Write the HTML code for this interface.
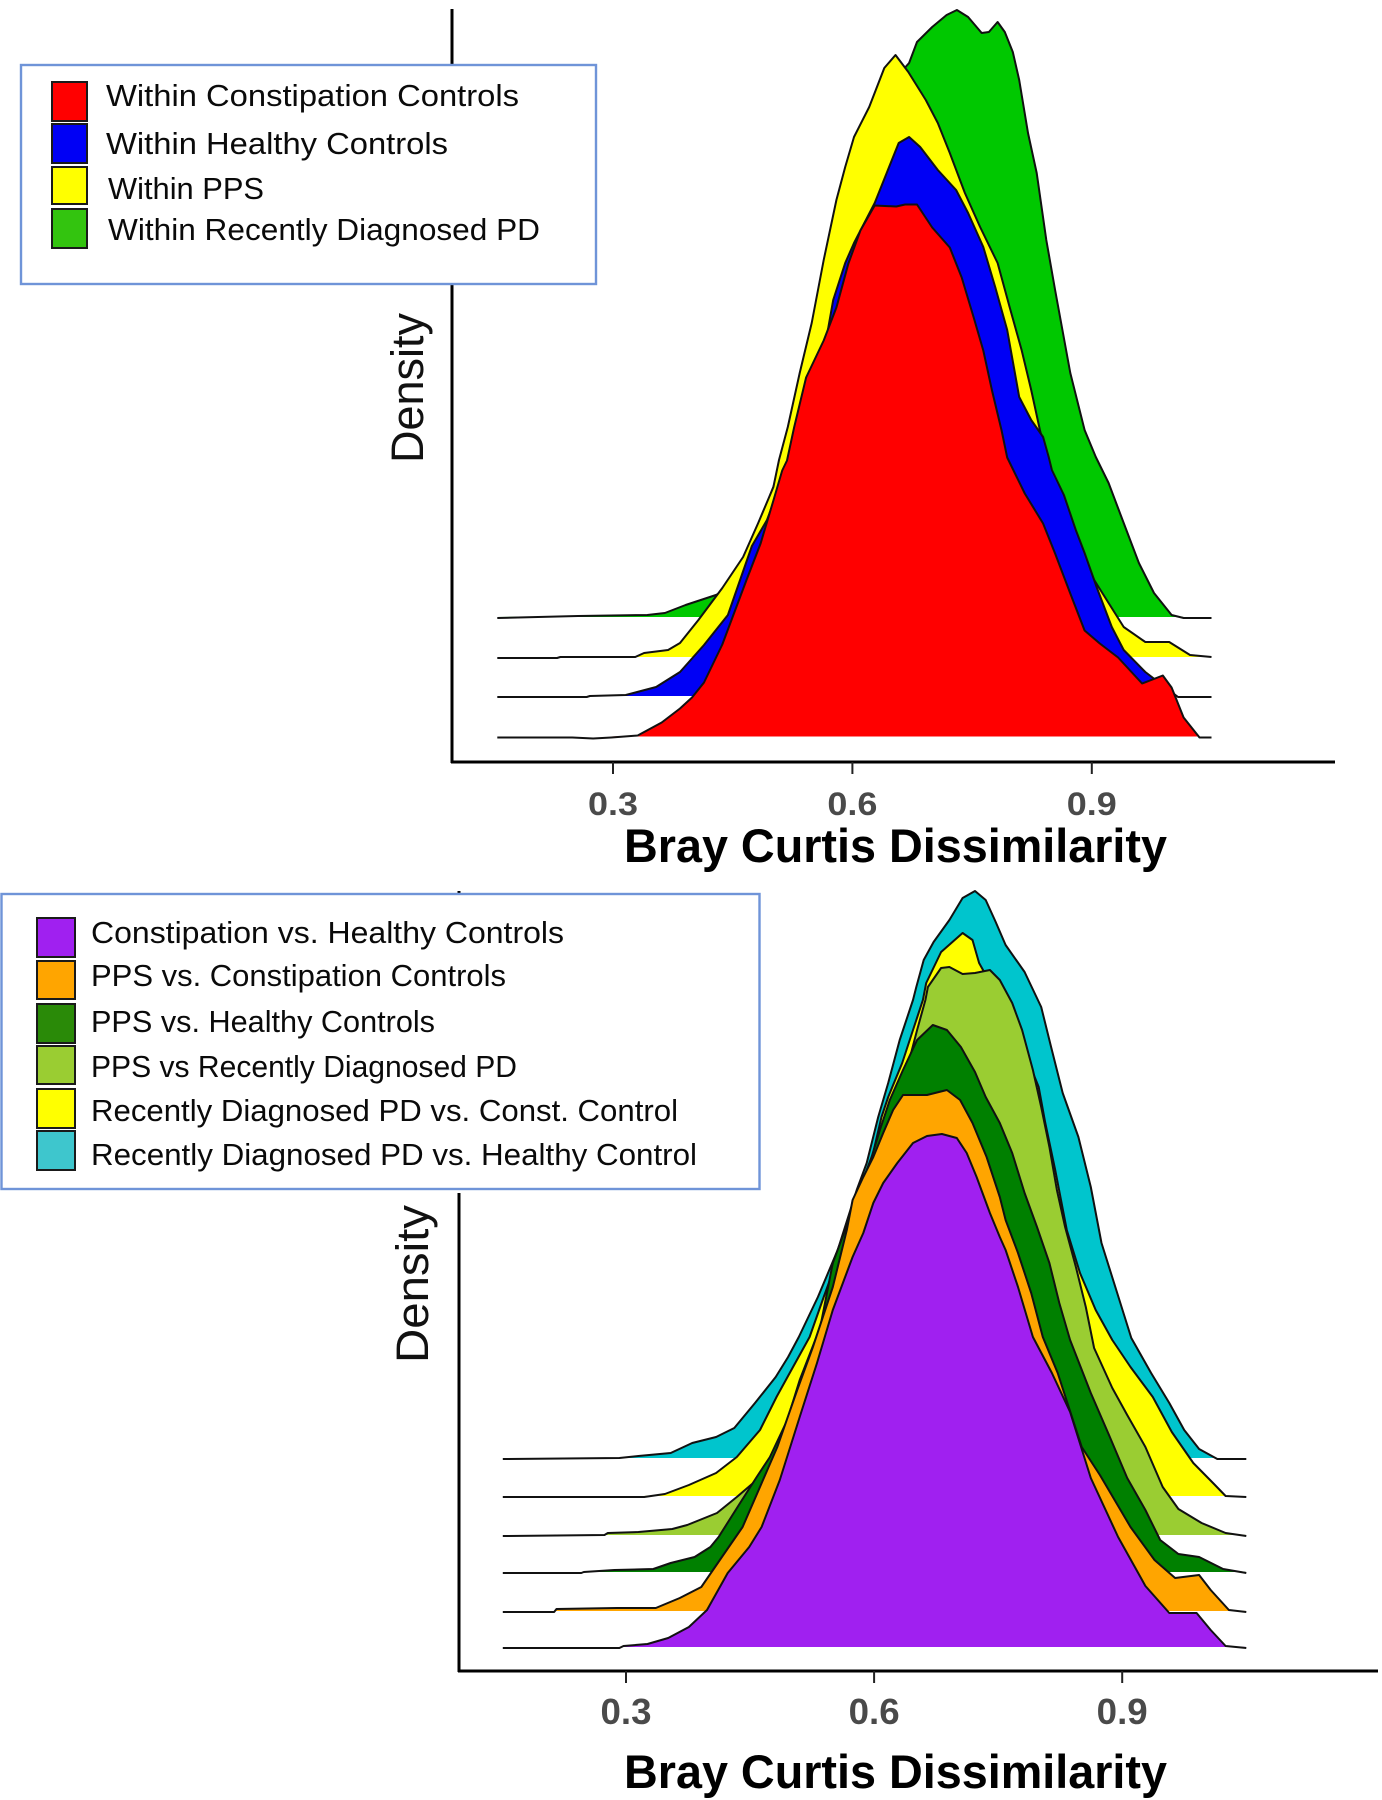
<!DOCTYPE html>
<html lang="en">
<head>
<meta charset="utf-8">
<title>Bray Curtis Dissimilarity density ridgelines</title>
<style>
html,body{margin:0;padding:0;background:#fff;}
body{width:1382px;height:1800px;overflow:hidden;}
svg{display:block;}
text{font-family:"Liberation Sans",sans-serif;}
.lg{font-size:31px;fill:#0a0a0a;}
.tick{font-size:32px;font-weight:bold;fill:#4a4a4a;}
.xt{font-size:47px;font-weight:bold;fill:#000;}
.yt{font-size:45px;fill:#111;}
.sw{stroke:#1a1a1a;stroke-width:2;}
.box{fill:#fff;stroke:#6f94d8;stroke-width:2.4;}
</style>
</head>
<body>
<svg id="chart" xmlns="http://www.w3.org/2000/svg" width="1382" height="1800" viewBox="0 0 1382 1800">
  <rect x="0" y="0" width="1382" height="1800" fill="#fff"/>
  <g id="top-chart">
    <line x1="452" y1="9" x2="452" y2="763" stroke="#000" stroke-width="3"/>
    <line x1="451" y1="762" x2="1335" y2="762" stroke="#000" stroke-width="3"/>
    <text class="yt" transform="translate(423,463) rotate(-90)" textLength="150" lengthAdjust="spacingAndGlyphs">Density</text>
    <text class="xt" x="624" y="862" textLength="543" lengthAdjust="spacingAndGlyphs">Bray Curtis Dissimilarity</text>
  </g>
  <g id="bottom-chart">
    <line x1="459" y1="891" x2="459" y2="1672" stroke="#000" stroke-width="3"/>
    <line x1="458" y1="1671" x2="1378" y2="1671" stroke="#000" stroke-width="3"/>
    <text class="yt" transform="translate(428,1363) rotate(-90)" textLength="158" lengthAdjust="spacingAndGlyphs">Density</text>
    <text class="xt" x="624" y="1788" textLength="543" lengthAdjust="spacingAndGlyphs">Bray Curtis Dissimilarity</text>
  </g>
  <g>
    <rect class="box" x="21" y="65" width="575" height="219"/>
    <g>
      <rect class="sw" x="52" y="82" width="35" height="39" fill="#ff0000"/>
      <text class="lg" x="106" y="106" textLength="413" lengthAdjust="spacingAndGlyphs">Within Constipation Controls</text>
    </g>
    <g>
      <rect class="sw" x="52" y="124" width="35" height="39" fill="#0000f5"/>
      <text class="lg" x="106" y="154" textLength="342" lengthAdjust="spacingAndGlyphs">Within Healthy Controls</text>
    </g>
    <g>
      <rect class="sw" x="52" y="167" width="35" height="37" fill="#ffff00"/>
      <text class="lg" x="108" y="199" textLength="156" lengthAdjust="spacingAndGlyphs">Within PPS</text>
    </g>
    <g>
      <rect class="sw" x="52" y="209" width="35" height="39" fill="#33c40f"/>
      <text class="lg" x="108" y="240" textLength="432" lengthAdjust="spacingAndGlyphs">Within Recently Diagnosed PD</text>
    </g>
  </g>
  <g>
    <rect x="0" y="1189" width="762" height="4" fill="#fff"/>
    <rect class="box" x="1.5" y="894" width="758" height="295"/>
    <g>
      <rect class="sw" x="37" y="918" width="38" height="39" fill="#a020f0"/>
      <text class="lg" x="91" y="943" textLength="473" lengthAdjust="spacingAndGlyphs">Constipation vs. Healthy Controls</text>
    </g>
    <g>
      <rect class="sw" x="37" y="961" width="38" height="38" fill="#ffa500"/>
      <text class="lg" x="91" y="986" textLength="415" lengthAdjust="spacingAndGlyphs">PPS vs. Constipation Controls</text>
    </g>
    <g>
      <rect class="sw" x="37" y="1004" width="38" height="39" fill="#2a8a08"/>
      <text class="lg" x="91" y="1032" textLength="344" lengthAdjust="spacingAndGlyphs">PPS vs. Healthy Controls</text>
    </g>
    <g>
      <rect class="sw" x="37" y="1046" width="38" height="38" fill="#9acd32"/>
      <text class="lg" x="91" y="1077" textLength="426" lengthAdjust="spacingAndGlyphs">PPS vs Recently Diagnosed PD</text>
    </g>
    <g>
      <rect class="sw" x="37" y="1089" width="38" height="39" fill="#ffff00"/>
      <text class="lg" x="91" y="1121" textLength="587" lengthAdjust="spacingAndGlyphs">Recently Diagnosed PD vs. Const. Control</text>
    </g>
    <g>
      <rect class="sw" x="37" y="1131" width="38" height="39" fill="#3ec6cd"/>
      <text class="lg" x="91" y="1165" textLength="606" lengthAdjust="spacingAndGlyphs">Recently Diagnosed PD vs. Healthy Control</text>
    </g>
  </g>
</svg>
<script>
const xTickValues = [0.3, 0.6, 0.9];
const xTickLabels = ["0.3", "0.6", "0.9"];

const withinRecentX = [.155,.256,.343,.365,.391,.429,.453,.478,.509,.542,.572,.607,.641,.671,.681,.700,.718,.731,.745,.762,.771,.782,.791,.801,.809,.820,.831,.843,.854,.873,.891,.905,.921,.940,.959,.978,1.000,1.015,1.050];
const withinRecentD = [0,.02,.03,.05,.13,.23,.33,.83,1.48,2.48,3.68,4.68,5.28,5.55,5.76,5.91,6.03,6.08,6.01,5.85,5.86,5.96,5.86,5.66,5.38,4.85,4.45,3.78,3.28,2.45,1.88,1.61,1.35,.95,.55,.25,.03,0,0];

const withinPpsX = [.155,.230,.234,.328,.339,.369,.384,.407,.437,.463,.482,.501,.508,.519,.534,.549,.564,.580,.591,.602,.621,.640,.654,.670,.692,.707,.722,.741,.760,.782,.797,.812,.824,.835,.848,.875,.903,.921,.940,.967,.997,1.023,1.050];
const withinPpsD = [0,0,.01,.01,.05,.08,.15,.38,.70,1.01,1.35,1.71,1.98,2.31,2.85,3.35,3.98,4.58,4.91,5.21,5.51,5.90,6.03,5.86,5.58,5.35,5.05,4.65,4.31,3.95,3.51,3.08,2.68,2.28,1.88,1.28,.78,.55,.31,.16,.16,.03,.01];

const withinHealthyX = [.155,.267,.271,.316,.354,.384,.414,.444,.474,.493,.521,.542,.567,.576,.591,.602,.628,.643,.658,.671,.685,.707,.730,.745,.764,.779,.794,.809,.824,.839,.846,.850,.865,.880,.891,.906,.925,.940,.967,1.008,1.050];
const withinHealthyD = [0,0,.01,.02,.10,.25,.52,.82,1.51,1.77,2.37,2.97,3.57,3.97,4.34,4.54,4.94,5.24,5.54,5.60,5.50,5.27,5.07,4.84,4.50,4.10,3.67,3.00,2.77,2.60,2.40,2.27,2.02,1.67,1.44,1.10,.70,.47,.25,0,0];

const withinConstipationX = [.155,.249,.275,.298,.331,.361,.384,.399,.414,.437,.467,.485,.501,.512,.518,.527,.542,.564,.580,.595,.610,.628,.655,.666,.681,.700,.722,.737,.752,.764,.775,.787,.794,.816,.839,.854,.873,.891,.910,.933,.948,.963,.989,1.000,1.015,1.035,1.050];
const withinConstipationD = [0,0,-.01,0,.02,.15,.29,.40,.55,.93,1.57,1.94,2.37,2.67,2.77,3.10,3.60,3.97,4.30,4.74,5.07,5.32,5.31,5.33,5.33,5.10,4.90,4.60,4.20,3.87,3.47,3.07,2.80,2.44,2.14,1.84,1.44,1.07,.94,.80,.67,.54,.62,.50,.20,0,0];

const recentVsHealthyX = [.151,.292,.315,.354,.380,.409,.431,.456,.481,.496,.509,.532,.556,.579,.591,.605,.617,.631,.647,.651,.660,.672,.691,.707,.722,.735,.747,.759,.782,.802,.814,.828,.847,.862,.875,.894,.911,.935,.957,.975,.993,1.015,1.050];
const recentVsHealthyD = [0,.01,.03,.06,.16,.22,.31,.56,.82,1.02,1.22,1.62,2.09,2.69,2.96,3.42,3.76,4.19,4.59,4.72,4.99,5.17,5.39,5.61,5.68,5.59,5.37,5.14,4.87,4.52,4.12,3.66,3.22,2.72,2.16,1.66,1.21,.86,.56,.29,.10,0,0];

const recentVsConstX = [.151,.322,.347,.376,.409,.434,.462,.482,.498,.522,.539,.560,.583,.596,.609,.617,.634,.647,.659,.663,.681,.707,.719,.727,.752,.776,.799,.807,.819,.833,.849,.868,.888,.910,.937,.960,.986,1.011,1.025,1.050];
const recentVsConstD = [0,0,.03,.12,.24,.40,.67,1.00,1.24,1.60,2.00,2.47,3.07,3.34,3.80,4.00,4.34,4.67,4.97,5.14,5.45,5.64,5.57,5.34,4.97,4.57,4.10,3.74,3.27,2.67,2.24,1.87,1.57,1.30,1.00,.65,.34,.13,.01,0];

const ppsVsRecentX = [.151,.274,.278,.315,.356,.374,.410,.434,.458,.501,.542,.568,.600,.624,.641,.652,.662,.665,.681,.691,.707,.722,.740,.752,.767,.779,.792,.802,.812,.821,.831,.844,.856,.866,.888,.906,.928,.949,.968,.996,1.025,1.050];
const ppsVsRecentD = [0,.01,.03,.04,.07,.11,.23,.39,.56,1.16,2.09,2.93,3.66,4.36,4.71,5.06,5.36,5.49,5.68,5.69,5.62,5.63,5.66,5.56,5.33,5.06,4.66,4.29,3.89,3.46,3.09,2.69,2.29,1.88,1.48,1.21,.89,.49,.27,.13,.03,0];

const ppsVsHealthyX = [.151,.246,.249,.286,.333,.354,.383,.402,.412,.438,.458,.474,.495,.510,.535,.550,.559,.577,.591,.597,.607,.619,.635,.652,.671,.688,.705,.722,.735,.752,.767,.782,.797,.812,.824,.837,.862,.884,.906,.928,.946,.968,.993,1.022,1.050];
const ppsVsHealthyD = [0,0,.01,.03,.04,.10,.16,.26,.36,.70,.96,1.16,1.53,1.93,2.46,3.10,3.30,3.70,4.03,4.16,4.43,4.73,5.03,5.33,5.48,5.43,5.26,5.01,4.76,4.50,4.20,3.80,3.46,3.10,2.70,2.33,1.80,1.38,.95,.63,.33,.19,.16,.04,0];

const ppsVsConstX = [.151,.213,.216,.289,.336,.365,.391,.416,.441,.483,.507,.526,.550,.567,.574,.587,.599,.611,.623,.635,.655,.664,.688,.704,.719,.736,.752,.759,.774,.790,.804,.822,.851,.873,.910,.939,.964,.993,1.007,1.029,1.050];
const ppsVsConstD = [0,0,.03,.04,.04,.14,.25,.55,.85,1.65,2.22,2.65,3.25,3.82,4.12,4.35,4.55,4.79,5.02,5.17,5.17,5.17,5.22,5.12,4.89,4.55,4.15,3.92,3.59,3.19,2.75,2.39,1.65,1.37,.85,.52,.34,.37,.22,.02,0];

const constVsHealthyX = [.151,.292,.297,.326,.351,.376,.398,.423,.449,.464,.486,.510,.531,.550,.574,.587,.599,.611,.628,.647,.664,.682,.700,.712,.724,.740,.752,.759,.774,.792,.815,.837,.862,.895,.928,.957,.990,1.007,1.025,1.050];
const constVsHealthyD = [0,0,.02,.04,.10,.21,.38,.75,1.01,1.21,1.68,2.31,2.85,3.38,3.91,4.15,4.45,4.65,4.85,5.05,5.12,5.14,5.10,4.95,4.71,4.35,4.11,3.98,3.61,3.11,2.75,2.36,1.70,1.11,.62,.35,.35,.18,.02,0];

const SVG_NS = 'http://www.w3.org/2000/svg';
const topGroup = document.getElementById('top-chart');
const bottomGroup = document.getElementById('bottom-chart');

function topX(v) { return 613 + (v - 0.3) * 798; }
function bottomX(v) { return 626 + (v - 0.3) * 827; }
function densityY(base, d) { return base - d * 100; }

function drawRidge(parent, name, xs, ds, scaleX, base, color) {
  const linePts = xs.map(function (v, i) {
    return [scaleX(v), densityY(base, ds[i])];
  });
  const floor = base - 1;
  const fillPts = linePts.map(function (p) {
    return p[0].toFixed(1) + ',' + Math.min(p[1], floor).toFixed(1);
  });
  const area = document.createElementNS(SVG_NS, 'polygon');
  area.setAttribute('points', fillPts.join(' '));
  area.setAttribute('fill', color);
  
  
  parent.appendChild(area);
  const line = document.createElementNS(SVG_NS, 'polyline');
  line.setAttribute('points', linePts.map(function (p) {
    return p[0].toFixed(1) + ',' + p[1].toFixed(1);
  }).join(' '));
  line.setAttribute('fill', 'none');
  line.setAttribute('stroke', '#111');
  line.setAttribute('stroke-width', '2');
  line.setAttribute('stroke-linejoin', 'round');
  
  
  parent.appendChild(line);
}

function drawTicks(parent, prefix, scaleX, axisY, labelY, fontSize, labelWidth) {
  xTickValues.forEach(function (v, i) {
    const tick = document.createElementNS(SVG_NS, 'line');
    tick.setAttribute('x1', scaleX(v));
    tick.setAttribute('x2', scaleX(v));
    tick.setAttribute('y1', axisY);
    tick.setAttribute('y2', axisY + 12);
    tick.setAttribute('stroke', '#222');
    tick.setAttribute('stroke-width', '2');
    
    
    parent.appendChild(tick);
    const label = document.createElementNS(SVG_NS, 'text');
    label.setAttribute('class', 'tick');
    label.setAttribute('x', scaleX(v) - labelWidth / 2);
    label.setAttribute('y', labelY);
    label.style.fontSize = fontSize + 'px';
    label.setAttribute('textLength', labelWidth);
    label.setAttribute('lengthAdjust', 'spacingAndGlyphs');
    
    
    label.textContent = xTickLabels[i];
    parent.appendChild(label);
  });
}

drawTicks(topGroup, 'top', topX, 762, 815, 32, 50);
drawRidge(topGroup, 'within-recent-pd', withinRecentX, withinRecentD, topX, 618, '#00c800');
drawRidge(topGroup, 'within-pps', withinPpsX, withinPpsD, topX, 658, '#ffff00');
drawRidge(topGroup, 'within-healthy', withinHealthyX, withinHealthyD, topX, 697, '#0000f5');
drawRidge(topGroup, 'within-constipation', withinConstipationX, withinConstipationD, topX, 737.5, '#ff0000');

drawTicks(bottomGroup, 'bottom', bottomX, 1671, 1724, 36, 51);
drawRidge(bottomGroup, 'recent-pd-vs-healthy', recentVsHealthyX, recentVsHealthyD, bottomX, 1459, '#00c5cd');
drawRidge(bottomGroup, 'recent-pd-vs-constipation', recentVsConstX, recentVsConstD, bottomX, 1497, '#ffff00');
drawRidge(bottomGroup, 'pps-vs-recent-pd', ppsVsRecentX, ppsVsRecentD, bottomX, 1536, '#9acd32');
drawRidge(bottomGroup, 'pps-vs-healthy', ppsVsHealthyX, ppsVsHealthyD, bottomX, 1573, '#008000');
drawRidge(bottomGroup, 'pps-vs-constipation', ppsVsConstX, ppsVsConstD, bottomX, 1612, '#ffa500');
drawRidge(bottomGroup, 'constipation-vs-healthy', constVsHealthyX, constVsHealthyD, bottomX, 1648, '#a020f0');
</script>
</body>
</html>
